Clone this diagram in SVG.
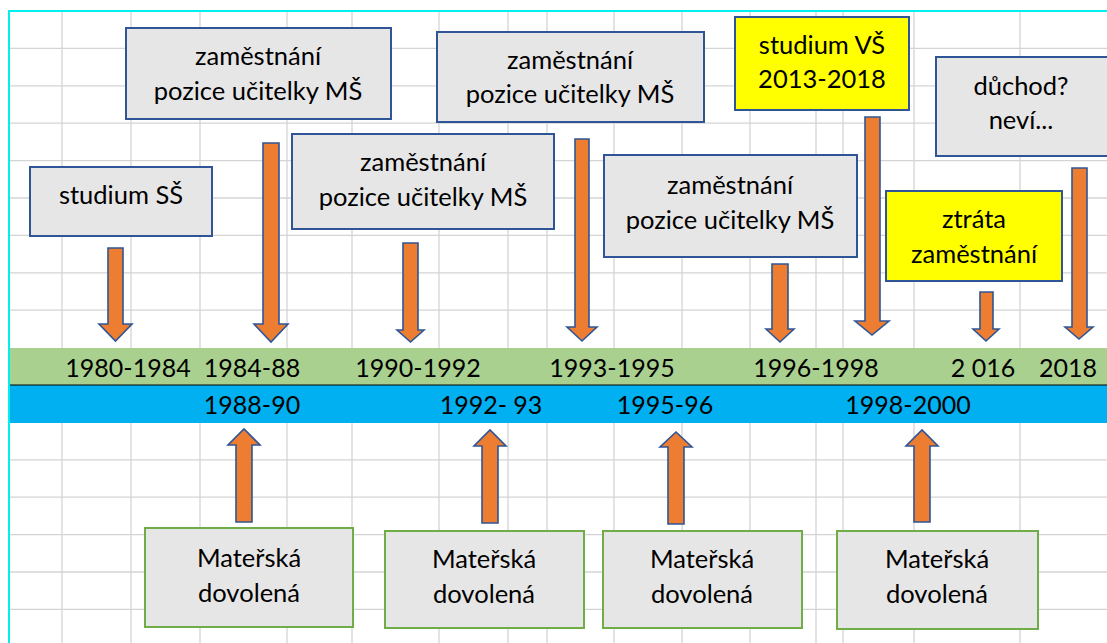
<svg xmlns="http://www.w3.org/2000/svg" width="1107" height="643" viewBox="0 0 1107 643">
  <style>
    .grid line { stroke: #D4D4D4; stroke-width: 1.3; }
    .box { fill: #E7E6E6; stroke: #2F5597; stroke-width: 2; }
    .hl { fill: #FFFF00; stroke: #2F5597; stroke-width: 2; }
    .leave { fill: #E7E6E6; stroke: #70AD47; stroke-width: 2; }
    .arrow { fill: #ED7D31; stroke: #2F5597; stroke-width: 1.6; stroke-linejoin: miter; }
    text { font-family: Lato, "Open Sans", "Liberation Sans", sans-serif; fill: #000; text-anchor: middle; }
    .t { font-size: 25.5px; }
    .yr { font-size: 25px; }
  </style>

  <rect x="0" y="0" width="1107" height="643" fill="#FFFFFF"/>

  <!-- spreadsheet grid -->
  <g class="grid">
    <line x1="9" y1="48.4" x2="1107" y2="48.4"/>
    <line x1="9" y1="85.8" x2="1107" y2="85.8"/>
    <line x1="9" y1="123.2" x2="1107" y2="123.2"/>
    <line x1="9" y1="160.6" x2="1107" y2="160.6"/>
    <line x1="9" y1="198" x2="1107" y2="198"/>
    <line x1="9" y1="235.4" x2="1107" y2="235.4"/>
    <line x1="9" y1="272.8" x2="1107" y2="272.8"/>
    <line x1="9" y1="310.2" x2="1107" y2="310.2"/>
    <line x1="9" y1="459.8" x2="1107" y2="459.8"/>
    <line x1="9" y1="497.2" x2="1107" y2="497.2"/>
    <line x1="9" y1="534.6" x2="1107" y2="534.6"/>
    <line x1="9" y1="572" x2="1107" y2="572"/>
    <line x1="9" y1="609.4" x2="1107" y2="609.4"/>
    <line x1="62" y1="11" x2="62" y2="643"/>
    <line x1="131" y1="11" x2="131" y2="643"/>
    <line x1="200" y1="11" x2="200" y2="643"/>
    <line x1="287" y1="11" x2="287" y2="643"/>
    <line x1="352" y1="11" x2="352" y2="643"/>
    <line x1="439" y1="11" x2="439" y2="643"/>
    <line x1="508" y1="11" x2="508" y2="643"/>
    <line x1="547" y1="11" x2="547" y2="643"/>
    <line x1="614" y1="11" x2="614" y2="643"/>
    <line x1="682" y1="11" x2="682" y2="643"/>
    <line x1="750" y1="11" x2="750" y2="643"/>
    <line x1="816" y1="11" x2="816" y2="643"/>
    <line x1="843" y1="11" x2="843" y2="643"/>
    <line x1="914" y1="11" x2="914" y2="643"/>
    <line x1="1020" y1="11" x2="1020" y2="643"/>
  </g>

  <!-- sheet frame -->
  <line x1="9" y1="11" x2="1107" y2="11" stroke="#00F0F0" stroke-width="2"/>
  <line x1="9" y1="10" x2="9" y2="643" stroke="#00F0F0" stroke-width="2"/>

  <!-- timeline bands -->
  <g id="timeline">
    <rect x="10" y="348" width="1097" height="37" fill="#A9D08E"/>
    <rect x="10" y="385" width="1097" height="38" fill="#00B0F0"/>
    <line x1="10" y1="385" x2="1107" y2="385" stroke="#000" stroke-width="1.2"/>
    <text class="yr" x="128" y="377">1980-1984</text>
    <text class="yr" x="252" y="377">1984-88</text>
    <text class="yr" x="418" y="377">1990-1992</text>
    <text class="yr" x="612" y="377">1993-1995</text>
    <text class="yr" x="816" y="377">1996-1998</text>
    <text class="yr" x="983" y="377">2 016</text>
    <text class="yr" x="1068" y="377">2018</text>
    <text class="yr" x="252" y="414">1988-90</text>
    <text class="yr" x="491" y="414">1992- 93</text>
    <text class="yr" x="665" y="414">1995-96</text>
    <text class="yr" x="908" y="414">1998-2000</text>
  </g>

  <!-- event boxes above the timeline -->
  <g id="studium-ss">
    <rect class="box" x="30" y="167" width="182" height="69"/>
    <text class="t" x="121" y="204">studium SŠ</text>
  </g>
  <g id="prace-1984">
    <rect class="box" x="126" y="28" width="265" height="91"/>
    <text class="t" x="258" y="65">zaměstnání</text>
    <text class="t" x="258" y="100">pozice učitelky MŠ</text>
  </g>
  <g id="prace-1990">
    <rect class="box" x="292" y="134" width="262" height="95"/>
    <text class="t" x="423" y="171">zaměstnání</text>
    <text class="t" x="423" y="206">pozice učitelky MŠ</text>
  </g>
  <g id="prace-1993">
    <rect class="box" x="437" y="32" width="267" height="90"/>
    <text class="t" x="570" y="69">zaměstnání</text>
    <text class="t" x="570" y="103">pozice učitelky MŠ</text>
  </g>
  <g id="prace-1996">
    <rect class="box" x="604" y="155" width="253" height="102"/>
    <text class="t" x="730" y="194">zaměstnání</text>
    <text class="t" x="730" y="229">pozice učitelky MŠ</text>
  </g>
  <g id="studium-vs">
    <rect class="hl" x="735" y="17" width="174" height="93"/>
    <text class="t" x="822" y="54">studium VŠ</text>
    <text class="t" x="822" y="88">2013-2018</text>
  </g>
  <g id="ztrata">
    <rect class="hl" x="886" y="191" width="176" height="90"/>
    <text class="t" x="974" y="228">ztráta</text>
    <text class="t" x="974" y="263">zaměstnání</text>
  </g>
  <g id="duchod">
    <rect class="box" x="936" y="57" width="175" height="99"/>
    <text class="t" x="1021" y="95">důchod?</text>
    <text class="t" x="1021" y="129">neví...</text>
  </g>

  <!-- maternity leave boxes below the timeline -->
  <g id="md-1988">
    <rect class="leave" x="145" y="528" width="208" height="99"/>
    <text class="t" x="249" y="567">Mateřská</text>
    <text class="t" x="249" y="602">dovolená</text>
  </g>
  <g id="md-1992">
    <rect class="leave" x="385" y="531" width="199" height="97"/>
    <text class="t" x="484" y="568">Mateřská</text>
    <text class="t" x="484" y="603">dovolená</text>
  </g>
  <g id="md-1995">
    <rect class="leave" x="603" y="531" width="199" height="97"/>
    <text class="t" x="702" y="568">Mateřská</text>
    <text class="t" x="702" y="603">dovolená</text>
  </g>
  <g id="md-1998">
    <rect class="leave" x="837" y="531" width="201" height="98"/>
    <text class="t" x="937" y="568">Mateřská</text>
    <text class="t" x="937" y="603">dovolená</text>
  </g>

  <!-- block arrows linking boxes to the timeline -->
  <g id="connectors">
    <polygon class="arrow" points="108,248 123,248 123,324 132,324 115.5,341 99,324 108,324"/>
    <polygon class="arrow" points="263,143 279,143 279,324 288,324 271,342 254,324 263,324"/>
    <polygon class="arrow" points="403,243 418,243 418,330 424,330 410.5,342 397,330 403,330"/>
    <polygon class="arrow" points="575,139 589,139 589,327 597,327 582,341 567,327 575,327"/>
    <polygon class="arrow" points="772,264 788,264 788,329 794,329 780,342 766,329 772,329"/>
    <polygon class="arrow" points="865,117 880,117 880,321 889,321 872,335 855,321 865,321"/>
    <polygon class="arrow" points="980,292 993,292 993,329 999,329 986,341 973,329 980,329"/>
    <polygon class="arrow" points="1072,168 1087,168 1087,327 1093,327 1079,339 1065,327 1072,327"/>
    <polygon class="arrow" points="236,522 252,522 252,445 260,445 244,429 228,445 236,445"/>
    <polygon class="arrow" points="482,523 498,523 498,446 506,446 490,430 474,446 482,446"/>
    <polygon class="arrow" points="668,524 684,524 684,447 692,447 676,432 660,447 668,447"/>
    <polygon class="arrow" points="914,522 930,522 930,446 938,446 922,430 906,446 914,446"/>
  </g>
</svg>
